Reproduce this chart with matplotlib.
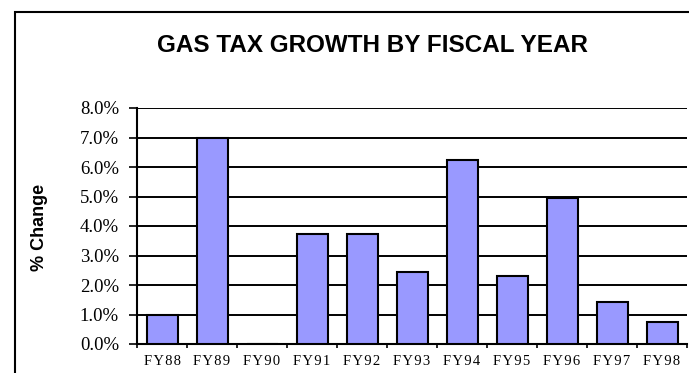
import matplotlib
matplotlib.use("Agg")
import matplotlib.pyplot as plt
from matplotlib.patches import Rectangle
from matplotlib.ticker import FuncFormatter

years = ["FY88", "FY89", "FY90", "FY91", "FY92", "FY93",
         "FY94", "FY95", "FY96", "FY97", "FY98"]
growth = [1.0, 7.0, 0.0, 3.72, 3.72, 2.44, 6.24, 2.31, 4.94, 1.43, 0.74]
yticks = [0, 1, 2, 3, 4, 5, 6, 7, 8]

W, H = 689, 373
fig = plt.figure(figsize=(W / 100, H / 100), dpi=100)

# outer chart frame (runs off the right and bottom edges)
fig.patches.append(Rectangle((15 / W, -0.1), 1.0, 1 - 12 / H + 0.1,
                             transform=fig.transFigure, fill=False,
                             edgecolor="black", linewidth=1.5, clip_on=False))

ax = fig.add_axes([137 / W, 1 - 344 / H, 550 / W, (344 - 108) / H])

x = range(len(years))
ax.bar(x, growth, width=0.62, color="#9999FF", edgecolor="black",
       linewidth=1.5, zorder=3)

ax.set_xlim(-0.5, len(years) - 0.5)
ax.set_ylim(0, 8)
ax.set_yticks(yticks)
ax.yaxis.set_major_formatter(FuncFormatter(lambda v, p: f"{v:.1f}%"))
ax.grid(axis="y", color="black", linewidth=1.4, zorder=1)
ax.set_axisbelow(True)

# ticks on the category boundaries, labels at the centres
ax.set_xticks([i - 0.5 for i in range(len(years) + 1)])
ax.set_xticklabels([])
ax.set_xticks(list(x), minor=True)
ax.set_xticklabels(["\u200a".join(y) for y in years], minor=True,
                   fontfamily="Liberation Serif", fontsize=10.5)
ax.tick_params(axis="x", which="major", length=3, width=1.2, direction="out")
ax.tick_params(axis="x", which="minor", length=0, pad=8)
ax.tick_params(axis="y", length=6, width=1.2, pad=7, labelsize=13.5)
for lab in ax.get_yticklabels():
    lab.set_fontfamily("Liberation Serif")

for side in ["top", "right"]:
    ax.spines[side].set_visible(False)
for side in ["left", "bottom"]:
    ax.spines[side].set_linewidth(1.5)

fig.text(40 / W, 1 - 227 / H, "% Change", rotation=90,
         fontfamily="Liberation Sans", fontweight="bold", fontsize=13,
         ha="center", va="center")

fig.text(372 / W, 1 - 45 / H, "GAS TAX GROWTH BY FISCAL YEAR",
         fontfamily="Liberation Sans", fontweight="bold", fontsize=17.5,
         ha="center", va="center")

fig.savefig("out.png", dpi=100)
